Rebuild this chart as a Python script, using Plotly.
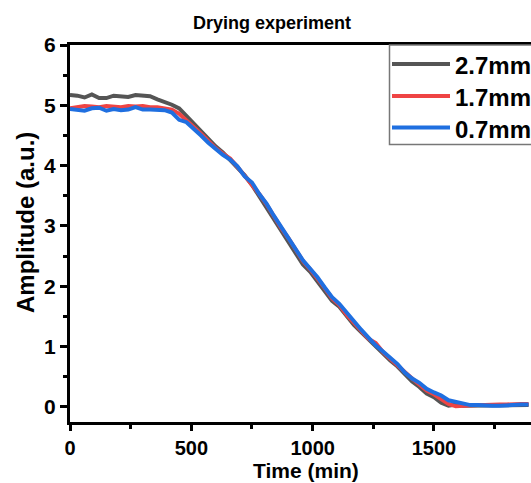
import plotly.graph_objects as go

time_min = list(range(0, 1891, 30))

amp_27 = [5.17, 5.16, 5.13, 5.18, 5.12, 5.12, 5.16, 5.15, 5.14, 5.17,
          5.16, 5.15, 5.10, 5.06, 5.01, 4.95, 4.82, 4.70, 4.58, 4.45,
          4.32, 4.22, 4.10, 3.98, 3.84, 3.68, 3.49, 3.30, 3.10, 2.90,
          2.74, 2.55, 2.36, 2.24, 2.08, 1.93, 1.76, 1.66, 1.51, 1.36,
          1.24, 1.12, 0.99, 0.89, 0.77, 0.67, 0.54, 0.42, 0.33, 0.22,
          0.16, 0.07, 0.02, 0.04, 0.02, 0.02, 0.02, 0.03, 0.02, 0.03,
          0.03, 0.03, 0.03, 0.03]

amp_17 = [4.95, 4.97, 4.99, 4.98, 4.97, 4.99, 4.98, 4.97, 4.99, 4.98,
          4.99, 4.97, 4.97, 4.95, 4.93, 4.86, 4.74, 4.64, 4.53, 4.41,
          4.29, 4.20, 4.12, 3.98, 3.83, 3.70, 3.53, 3.36, 3.16, 2.97,
          2.80, 2.60, 2.42, 2.28, 2.13, 1.97, 1.80, 1.69, 1.53, 1.40,
          1.26, 1.13, 1.06, 0.91, 0.80, 0.70, 0.58, 0.47, 0.37, 0.27,
          0.21, 0.12, 0.05, 0.01, 0.02, 0.03, 0.03, 0.03, 0.04, 0.04,
          0.04, 0.05, 0.05, 0.05]

amp_07 = [4.94, 4.93, 4.91, 4.95, 4.96, 4.91, 4.94, 4.92, 4.93, 4.97,
          4.93, 4.93, 4.92, 4.92, 4.88, 4.76, 4.72, 4.62, 4.50, 4.38,
          4.27, 4.18, 4.10, 3.99, 3.82, 3.72, 3.53, 3.37, 3.17, 2.98,
          2.82, 2.61, 2.43, 2.29, 2.15, 1.98, 1.82, 1.71, 1.56, 1.41,
          1.28, 1.15, 1.02, 0.92, 0.81, 0.71, 0.57, 0.47, 0.40, 0.30,
          0.24, 0.19, 0.11, 0.08, 0.05, 0.03, 0.03, 0.02, 0.02, 0.02,
          0.03, 0.03, 0.04, 0.04]

series_names = ["2.7mm", "1.7mm", "0.7mm"]
series_values = [amp_27, amp_17, amp_07]
series_colors = ["#555555", "#ef4444", "#1f6fe0"]

x_ticks = [0, 500, 1000, 1500]
y_ticks = [0, 1, 2, 3, 4, 5, 6]

x_title = "Time (min)"
y_title = "Amplitude (a.u.)"
chart_title = "Drying experiment"

FONT = "Arial, Liberation Sans, sans-serif"

fig = go.Figure()
for name, vals, col in zip(series_names, series_values, series_colors):
    fig.add_trace(go.Scatter(x=time_min, y=vals, mode="lines", name=name,
                             line=dict(color=col, width=4),
                             showlegend=False))

W, H = 531, 483
L, R, T, B = 70, 0, 45, 61
pw, ph = W - L - R, H - T - B


def px2paper_x(px):
    return (px - L) / pw


def px2paper_y(py):
    return (H - B - py) / ph


# custom legend (box, line samples and labels)
shapes = [dict(type="rect", xref="paper", yref="paper",
               x0=px2paper_x(389.5), x1=px2paper_x(600),
               y0=px2paper_y(144.5), y1=px2paper_y(45),
               line=dict(color="#777777", width=1.5), fillcolor="white",
               layer="above")]
annotations = []
leg_y = [64, 96, 127.5]
for name, col, yy in zip(series_names, series_colors, leg_y):
    shapes.append(dict(type="line", xref="paper", yref="paper",
                       x0=px2paper_x(392), x1=px2paper_x(450),
                       y0=px2paper_y(yy), y1=px2paper_y(yy),
                       line=dict(color=col, width=4), layer="above"))
    annotations.append(dict(xref="paper", yref="paper", x=px2paper_x(453),
                            y=px2paper_y(yy + 1.5), xanchor="left",
                            yanchor="middle", showarrow=False, text=name,
                            font=dict(family=FONT, size=24, color="black",
                                      weight="bold")))

# axis titles as annotations (tight placement like the reference)
annotations.append(dict(xref="paper", yref="paper", x=px2paper_x(306),
                        y=px2paper_y(470.5), xanchor="center",
                        yanchor="middle", showarrow=False, text=x_title,
                        borderpad=0,
                        font=dict(family=FONT, size=21, color="black",
                                  weight="bold")))
annotations.append(dict(xref="paper", yref="paper", x=px2paper_x(25),
                        y=px2paper_y(223), xanchor="center", yanchor="middle",
                        showarrow=False, text=y_title, textangle=-90,
                        font=dict(family=FONT, size=24, color="black",
                                  weight="bold")))

fig.update_layout(
    width=W, height=H,
    margin=dict(l=L, r=R, t=T, b=B, pad=0),
    paper_bgcolor="white", plot_bgcolor="white",
    title=dict(text=chart_title, xref="container", yref="container",
               x=272 / W, y=1 - 23 / H, xanchor="center", yanchor="middle",
               font=dict(family=FONT, size=18, color="black", weight="bold")),
    shapes=shapes, annotations=annotations,
    font=dict(family=FONT, color="black"),
)

fig.update_xaxes(
    range=[0, 1900], tickvals=x_ticks, ticktext=[str(v) for v in x_ticks],
    showline=True, linewidth=3, linecolor="black", mirror=True,
    ticks="outside", ticklen=6, tickwidth=2.5, tickcolor="black",
    minor=dict(dtick=250, tick0=0, ticks="outside", ticklen=4,
               tickwidth=2.5, tickcolor="black", showgrid=False),
    showgrid=False, zeroline=False,
    tickfont=dict(family=FONT, size=20, color="black", weight="bold"),
)
fig.update_yaxes(
    range=[-0.25, 6], tickvals=y_ticks, ticktext=[str(v) for v in y_ticks],
    showline=True, linewidth=3, linecolor="black", mirror=False,
    ticks="outside", ticklen=7, tickwidth=2.5, tickcolor="black",
    minor=dict(dtick=0.5, tick0=0, ticks="outside", ticklen=4,
               tickwidth=2.5, tickcolor="black", showgrid=False),
    showgrid=False, zeroline=False,
    tickfont=dict(family=FONT, size=21, color="black", weight="bold"),
)

fig.write_html("out.html")
